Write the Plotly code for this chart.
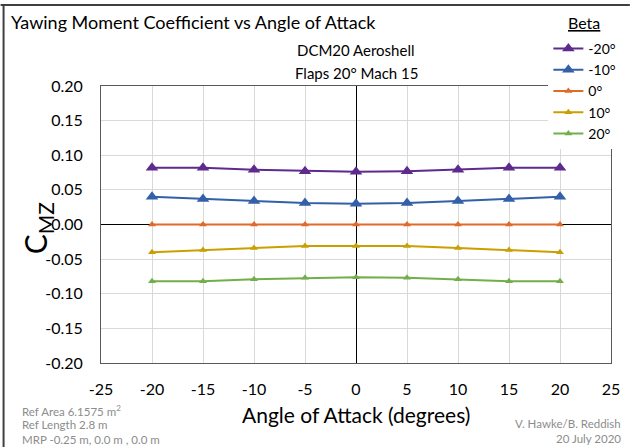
import plotly.graph_objects as go

# Angle of attack sweep (degrees)
alpha = [-20, -15, -10, -5, 0, 5, 10, 15, 20]

# Yawing moment coefficient for each sideslip angle
cmz_beta_m20 = [0.082, 0.082, 0.079, 0.077, 0.076, 0.077, 0.079, 0.082, 0.082]
cmz_beta_m10 = [0.040, 0.037, 0.034, 0.031, 0.030, 0.031, 0.034, 0.037, 0.040]
cmz_beta_0 = [0.0, 0.0, 0.0, 0.0, 0.0, 0.0, 0.0, 0.0, 0.0]
cmz_beta_10 = [-0.040, -0.037, -0.034, -0.031, -0.031, -0.031, -0.034, -0.037, -0.040]
cmz_beta_20 = [-0.082, -0.082, -0.079, -0.077, -0.076, -0.077, -0.079, -0.082, -0.082]

beta_labels = ["-20°", "-10°", "0°", "10°", "20°"]
x_ticks = [-25, -20, -15, -10, -5, 0, 5, 10, 15, 20, 25]
y_ticks = [-0.20, -0.15, -0.10, -0.05, 0.0, 0.05, 0.10, 0.15, 0.20]

W, H = 633, 447
L, R, T, B = 101, 19, 86, 84
PW, PH = W - L - R, H - T - B


def px(x):
    return (x - L) / PW


def py(y):
    return (H - B - y) / PH


FONT = "Lato"
series = [
    (cmz_beta_m20, "#5E2A8E", 11),
    (cmz_beta_m10, "#3360A9", 11),
    (cmz_beta_0, "#E06A28", 7),
    (cmz_beta_10, "#C9A000", 7),
    (cmz_beta_20, "#72AF4A", 7),
]

fig = go.Figure()
for (vals, color, msize), name in zip(series, beta_labels):
    fig.add_trace(go.Scatter(
        x=alpha, y=vals, name=name, mode="lines+markers",
        line=dict(color=color, width=2),
        marker=dict(symbol="triangle-up", size=msize, color=color),
    ))

axis_common = dict(
    showgrid=True, gridcolor="#D9D9D9", gridwidth=1,
    zeroline=True, zerolinecolor="#000000", zerolinewidth=1.3,
    showline=True, linecolor="#595959", linewidth=1, mirror=True,
    ticks="", tickfont=dict(family=FONT, size=16, color="#000000"),
)

fig.update_xaxes(range=[-25, 25], tickvals=x_ticks,
                 ticktext=[str(v) for v in x_ticks],
                 ticklabelstandoff=12, **axis_common)
fig.update_yaxes(range=[-0.20, 0.20], tickvals=y_ticks,
                 ticktext=[f"{v:.2f}" for v in y_ticks],
                 ticklabelstandoff=14, **axis_common)

notes_font = dict(family=FONT, size=11.5, color="#8C8C8C")
annotations = [
    dict(text="Yawing Moment Coefficient vs Angle of Attack", x=px(8), y=py(22),
         xanchor="left", yanchor="middle", font=dict(family=FONT, size=18, color="#000000")),
    dict(text="DCM20 Aeroshell", x=px(358), y=py(50), xanchor="center", yanchor="middle",
         font=dict(family=FONT, size=15, color="#000000")),
    dict(text="Flaps 20° Mach 15", x=px(358), y=py(73), xanchor="center", yanchor="middle",
         font=dict(family=FONT, size=15, color="#000000")),
    dict(text="Angle of Attack (degrees)", x=px(358), y=py(414), xanchor="center", yanchor="middle",
         font=dict(family=FONT, size=21, color="#000000")),
    dict(text="C<sub>MZ</sub>", x=px(37), y=py(228), xanchor="center", yanchor="middle",
         textangle=-90, font=dict(family=FONT, size=30, color="#000000")),
    dict(text="<u>Beta</u>", x=px(587), y=py(22), xanchor="center", yanchor="middle",
         font=dict(family=FONT, size=16, color="#000000")),
    dict(text="Ref Area 6.1575 m<sup>2</sup>", x=px(20), y=py(410), xanchor="left", yanchor="middle", font=notes_font),
    dict(text="Ref Length 2.8 m", x=px(20), y=py(424), xanchor="left", yanchor="middle", font=notes_font),
    dict(text="MRP -0.25 m, 0.0 m , 0.0 m", x=px(20), y=py(439), xanchor="left", yanchor="middle", font=notes_font),
    dict(text="V. Hawke/B. Reddish", x=px(626), y=py(423), xanchor="right", yanchor="middle", font=notes_font),
    dict(text="20 July 2020", x=px(626), y=py(438), xanchor="right", yanchor="middle", font=notes_font),
]
for a in annotations:
    a.update(xref="paper", yref="paper", showarrow=False)

shapes = [
    dict(type="line", xref="paper", yref="paper", x0=px(0), x1=px(W), y0=py(5), y1=py(5),
         line=dict(color="#404040", width=2)),
    dict(type="line", xref="paper", yref="paper", x0=px(3), x1=px(3), y0=py(5), y1=py(H),
         line=dict(color="#404040", width=2)),
]

fig.update_layout(
    width=W, height=H,
    margin=dict(l=L, r=R, t=T, b=B),
    paper_bgcolor="white", plot_bgcolor="white",
    font=dict(family=FONT, color="#000000"),
    annotations=annotations, shapes=shapes,
    showlegend=True,
    legend=dict(x=px(551), y=py(33), xanchor="left", yanchor="top",
                bgcolor="white", borderwidth=0, itemwidth=30,
                font=dict(family=FONT, size=14, color="#000000"),
                tracegroupgap=0),
)

fig.write_html("out.html")
